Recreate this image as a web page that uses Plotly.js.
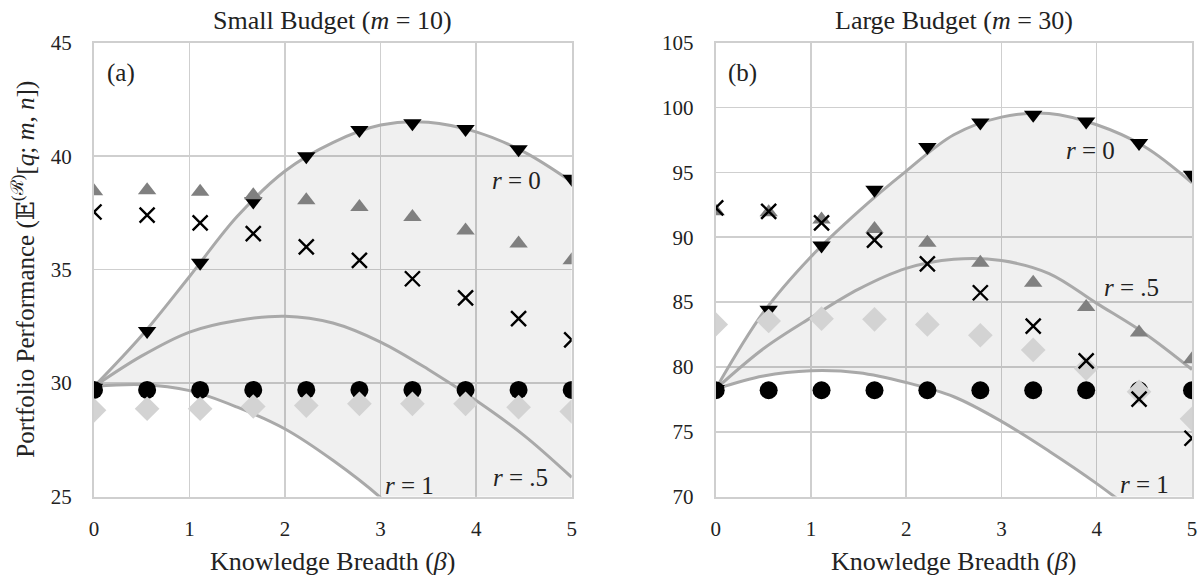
<!DOCTYPE html>
<html>
<head>
<meta charset="utf-8">
<script src="https://cdn.plot.ly/plotly-3.0.1.min.js"></script>
<style>html,body{margin:0;padding:0;background:#fff;}#chart{width:1203px;height:575px;}</style>
</head>
<body>
<div id="chart"></div>
<script>
// ---- data ----
const betaPoints = [0, 0.556, 1.111, 1.667, 2.222, 2.778, 3.333, 3.889, 4.444, 5];
const curveBeta = [0, 0.5, 1, 1.5, 2, 2.5, 3, 3.5, 4, 4.5, 5];

// Small budget (m = 10)
const smallDown    = [29.8, 32.3, 35.3, 38.0, 40.0, 41.15, 41.45, 41.2, 40.3, 39.0];
const smallUp      = [38.45, 38.5, 38.43, 38.28, 38.06, 37.76, 37.32, 36.73, 36.15, 35.41];
const smallCross   = [37.54, 37.4, 37.06, 36.59, 36.0, 35.41, 34.6, 33.76, 32.84, 31.91];
const smallCircle  = [29.7, 29.7, 29.7, 29.7, 29.7, 29.7, 29.7, 29.7, 29.7, 29.7];
const smallDiamond = [28.8, 28.87, 28.87, 28.97, 29.01, 29.09, 29.09, 29.09, 28.94, 28.75];
const smallR0  = [29.85, 32.1, 34.7, 37.35, 39.35, 40.6, 41.37, 41.5, 41.07, 40.19, 38.87];
const smallR05 = [29.85, 31.2, 32.25, 32.76, 32.95, 32.65, 31.81, 30.6, 29.23, 27.7, 25.85];
const smallR1  = [29.85, 29.93, 29.67, 28.94, 27.98, 26.6, 24.95, 22.8, 20.5, 18.0, 15.3];

// Large budget (m = 30)
const largeDown    = [78.3, 84.4, 89.36, 93.67, 96.95, 98.85, 99.44, 98.92, 97.26, 94.82];
const largeUp      = [92.0, 91.92, 91.36, 90.64, 89.57, 88.03, 86.49, 84.62, 82.65, 80.6];
const largeCross   = [92.26, 92.0, 91.1, 89.77, 87.95, 85.72, 83.15, 80.46, 77.52, 74.5];
const largeCircle  = [78.2, 78.2, 78.2, 78.2, 78.2, 78.2, 78.2, 78.2, 78.2, 78.2];
const largeDiamond = [83.28, 83.54, 83.72, 83.67, 83.28, 82.44, 81.31, 79.87, 78.08, 76.0];
const largeR0  = [78.3, 84.2, 88.5, 92.0, 95.1, 97.9, 99.26, 99.55, 98.67, 97.0, 94.2];
const largeR05 = [78.3, 81.4, 83.8, 86.0, 87.6, 88.3, 88.2, 87.2, 84.9, 82.6, 79.8];
const largeR1  = [78.3, 79.3, 79.7, 79.55, 78.8, 77.7, 75.8, 73.5, 71.0, 68.2, 65.0];

const xTicks = [0, 1, 2, 3, 4, 5];
const smallYTicks = [25, 30, 35, 40, 45];
const largeYTicks = [70, 75, 80, 85, 90, 95, 100, 105];

// ---- styles ----
const FONT = '"Liberation Serif", "DejaVu Serif", serif';
const CURVE = {color: '#a9a9a9', width: 3, shape: 'spline', smoothing: 1};
const FILL = 'rgba(0,0,0,0.06)';

function panel(xa, ya, down, up, cross, circ, diam, r0, r05, r1) {
  return [
    {x: curveBeta, y: r1, xaxis: xa, yaxis: ya, mode: 'lines', line: CURVE, hoverinfo: 'skip'},
    {x: curveBeta, y: r0, xaxis: xa, yaxis: ya, mode: 'lines', line: CURVE, fill: 'tonexty', fillcolor: FILL, hoverinfo: 'skip'},
    {x: curveBeta, y: r05, xaxis: xa, yaxis: ya, mode: 'lines', line: CURVE, hoverinfo: 'skip'},
    {x: betaPoints, y: down, xaxis: xa, yaxis: ya, mode: 'markers', marker: {symbol: 'triangle-down', size: 16, color: '#000000'}},
    {x: betaPoints, y: circ, xaxis: xa, yaxis: ya, mode: 'markers', marker: {symbol: 'circle', size: 18, color: '#000000'}},
    {x: betaPoints, y: diam, xaxis: xa, yaxis: ya, mode: 'markers', marker: {symbol: 'diamond', size: 19, color: '#d3d3d3'}},
    {x: betaPoints, y: up, xaxis: xa, yaxis: ya, mode: 'markers', marker: {symbol: 'triangle-up', size: 16, color: '#808080'}},
    {x: betaPoints, y: cross, xaxis: xa, yaxis: ya, mode: 'markers', marker: {symbol: 'x-thin-open', size: 15, color: '#000000', line: {color: '#000000', width: 2.4}}}
  ];
}

const data = [].concat(
  panel('x', 'y', smallDown, smallUp, smallCross, smallCircle, smallDiamond, smallR0, smallR05, smallR1),
  panel('x2', 'y2', largeDown, largeUp, largeCross, largeCircle, largeDiamond, largeR0, largeR05, largeR1)
);

const axisCommon = {
  showgrid: true, gridcolor: '#cfcfcf', gridwidth: 1.5,
  showline: true, mirror: true, linecolor: '#cfcfcf', linewidth: 2,
  zeroline: false, ticks: '', tickfont: {family: FONT, size: 21, color: '#222'},
  fixedrange: true
};

const yDom = [1 - 496.6 / 575, 1 - 42.7 / 575];
const x1Dom = [94 / 1203, 571.7 / 1203];
const x2Dom = [715.7 / 1203, 1192 / 1203];

function ann(text, x, y, xref, yref, size, extra) {
  return Object.assign({text: text, x: x, y: y, xref: xref, yref: yref, showarrow: false,
    font: {family: FONT, size: size, color: '#222'}, xanchor: 'center', yanchor: 'middle'}, extra || {});
}

const titleSize = 26;
const annotations = [
  ann('Small Budget (<i>m</i> = 10)', (x1Dom[0] + x1Dom[1]) / 2, 1 - 21 / 575, 'paper', 'paper', titleSize),
  ann('Large Budget (<i>m</i> = 30)', (x2Dom[0] + x2Dom[1]) / 2, 1 - 21 / 575, 'paper', 'paper', titleSize),
  ann('Knowledge Breadth (<i>β</i>)', (x1Dom[0] + x1Dom[1]) / 2, 1 - 561 / 575, 'paper', 'paper', titleSize),
  ann('Knowledge Breadth (<i>β</i>)', (x2Dom[0] + x2Dom[1]) / 2, 1 - 561 / 575, 'paper', 'paper', titleSize),
  ann('Portfolio Performance (𝔼<sup>(ℛ)</sup>[<i>q</i>; <i>m</i>, <i>n</i>])', 24 / 1203, (yDom[0] + yDom[1]) / 2, 'paper', 'paper', 25, {textangle: -90}),
  ann('(a)', 0.28, 43.65, 'x', 'y', 25),
  ann('(b)', 0.28, 102.65, 'x2', 'y2', 25),
  ann('<i>r</i> = 0', 4.42, 38.95, 'x', 'y', 25),
  ann('<i>r</i> = .5', 4.46, 25.85, 'x', 'y', 25),
  ann('<i>r</i> = 1', 3.30, 25.5, 'x', 'y', 25),
  ann('<i>r</i> = 0', 3.93, 96.7, 'x2', 'y2', 25),
  ann('<i>r</i> = .5', 4.36, 86.1, 'x2', 'y2', 25),
  ann('<i>r</i> = 1', 4.5, 70.95, 'x2', 'y2', 25)
];

const layout = {
  width: 1203, height: 575,
  margin: {l: 0, r: 0, t: 0, b: 0},
  paper_bgcolor: '#ffffff', plot_bgcolor: '#ffffff',
  showlegend: false,
  font: {family: FONT, color: '#222'},
  xaxis: Object.assign({}, axisCommon, {domain: x1Dom, range: [0, 5], tickvals: xTicks, ticklabelstandoff: 12, anchor: 'y'}),
  yaxis: Object.assign({}, axisCommon, {domain: yDom, range: [25, 45], tickvals: smallYTicks, ticklabelstandoff: 16, anchor: 'x'}),
  xaxis2: Object.assign({}, axisCommon, {domain: x2Dom, range: [0, 5], tickvals: xTicks, ticklabelstandoff: 12, anchor: 'y2'}),
  yaxis2: Object.assign({}, axisCommon, {domain: yDom, range: [70, 105], tickvals: largeYTicks, ticklabelstandoff: 16, anchor: 'x2'}),
  annotations: annotations
};

Plotly.newPlot('chart', data, layout, {displayModeBar: false, staticPlot: true});
</script>
</body>
</html>
